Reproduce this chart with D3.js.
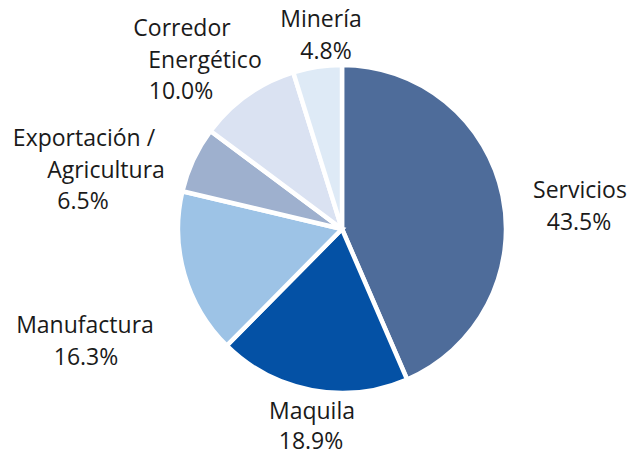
<!DOCTYPE html>
<html>
<head>
<meta charset="utf-8">
<script src="https://cdn.jsdelivr.net/npm/d3@7"></script>
<style>
  html, body { margin: 0; padding: 0; background: #fff; }
  svg text { font-family: "Open Sans", Lato, sans-serif; font-size: 23px; fill: #1a1a1a; }
</style>
</head>
<body>
<svg id="chart" width="630" height="456"></svg>
<script>
// Sectors, clockwise from twelve o'clock
const categories = ["Servicios", "Maquila", "Manufactura", "Exportación / Agricultura", "Corredor Energético", "Minería"];
const shares = [43.5, 18.9, 16.3, 6.5, 10.0, 4.8];
const colors = ["#4E6C9A", "#0451A5", "#9DC3E6", "#9EB0CE", "#DAE2F2", "#DEEAF6"];
// Label lines for each sector (the last line is the share)
const labelLines = [
  ["Servicios"],
  ["Maquila"],
  ["Manufactura"],
  ["Exportación /", "Agricultura"],
  ["Corredor", "Energético"],
  ["Minería"]
];
// Label anchor: centre x of each line and baseline of the first line
const labelPos = [
  { xs: [580, 579], y: 198 },
  { xs: [312, 311], y: 419 },
  { xs: [85, 86], y: 333 },
  { xs: [84, 106, 83], y: 146 },
  { xs: [182, 205, 181], y: 36 },
  { xs: [321, 326], y: 27 }
];

const cx = 342, cy = 229, radius = 164, lineGap = 31.5;
const svg = d3.select("#chart");
const g = svg.append("g").attr("transform", `translate(${cx},${cy})`);

const data = categories.map((c, i) => ({ name: c, value: shares[i], color: colors[i] }));
const pie = d3.pie().value(d => d.value).sort(null);
const arc = d3.arc().innerRadius(0).outerRadius(radius);

g.selectAll("path")
  .data(pie(data))
  .join("path")
  .attr("d", arc)
  .attr("fill", d => d.data.color)
  .attr("stroke", "#fff")
  .attr("stroke-width", 4.5)
  .attr("stroke-linejoin", "miter");

const fmt = d3.format(".1f");
data.forEach((d, i) => {
  const lines = labelLines[i].concat([fmt(d.value) + "%"]);
  const pos = labelPos[i];
  lines.forEach((t, j) => {
    svg.append("text")
      .attr("x", pos.xs[j])
      .attr("y", pos.y + j * (i === 1 ? 30 : lineGap))
      .attr("text-anchor", "middle")
      .text(t);
  });
});
</script>
</body>
</html>
